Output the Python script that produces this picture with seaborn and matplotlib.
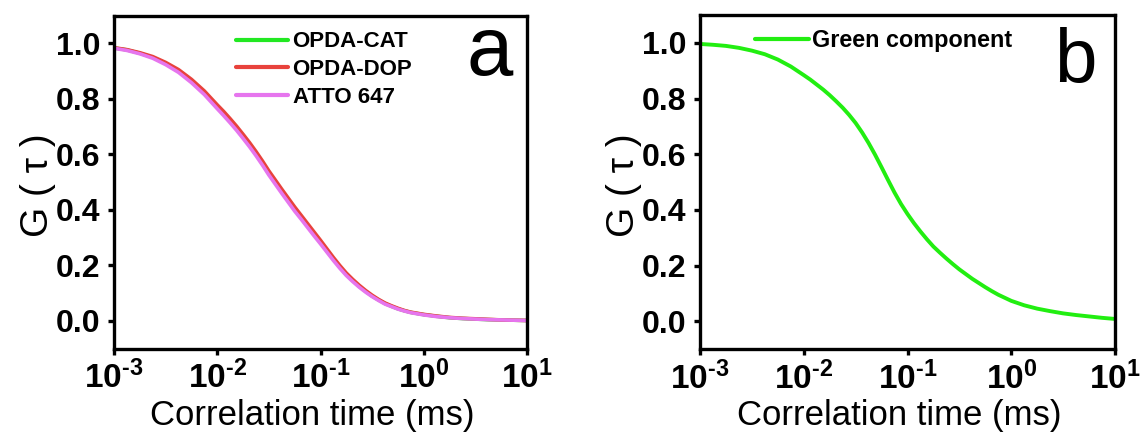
import numpy as np
import pandas as pd
import matplotlib
matplotlib.use("Agg")
import matplotlib.pyplot as plt
from matplotlib.ticker import FixedLocator, FuncFormatter, NullLocator
import seaborn as sns

# ---------------- data ----------------
tau_ms = [0.001, 0.001334, 0.001778, 0.002371, 0.003162, 0.004217, 0.005623, 0.007499,
          0.01, 0.01155, 0.01334, 0.0154, 0.01778, 0.02054, 0.02371, 0.02738,
          0.03162, 0.03652, 0.04217, 0.0487, 0.05623, 0.06494, 0.07499, 0.0866,
          0.1, 0.1155, 0.1334, 0.154, 0.1778, 0.2054, 0.2371, 0.2738,
          0.3162, 0.3652, 0.4217, 0.487, 0.5623, 0.6494, 0.7499, 0.866,
          1.0,
          1.334, 1.778, 2.371, 3.162, 4.217, 5.623, 7.499, 10.0]

g_opda_cat = [0.983, 0.976, 0.964, 0.949, 0.927, 0.900, 0.864, 0.821,
              0.771, 0.747, 0.720, 0.693, 0.664, 0.634, 0.602, 0.568,
              0.532, 0.499, 0.466, 0.434, 0.402, 0.372, 0.342, 0.312,
              0.282, 0.252, 0.222, 0.194, 0.167, 0.145, 0.124, 0.106,
              0.089, 0.075, 0.062, 0.052, 0.043, 0.036, 0.030, 0.026,
              0.022,
              0.016, 0.011, 0.008, 0.006, 0.004, 0.003, 0.002, 0.001]

g_opda_dop = [0.984, 0.977, 0.966, 0.952, 0.931, 0.905, 0.870, 0.828,
              0.778, 0.754, 0.728, 0.701, 0.672, 0.642, 0.610, 0.576,
              0.540, 0.507, 0.474, 0.442, 0.410, 0.380, 0.350, 0.320,
              0.290, 0.259, 0.228, 0.199, 0.172, 0.149, 0.128, 0.109,
              0.092, 0.077, 0.064, 0.054, 0.045, 0.037, 0.031, 0.027,
              0.023,
              0.017, 0.012, 0.009, 0.007, 0.005, 0.003, 0.002, 0.001]

g_atto647 = [0.982, 0.974, 0.962, 0.946, 0.923, 0.895, 0.858, 0.815,
             0.764, 0.739, 0.713, 0.686, 0.657, 0.627, 0.595, 0.561,
             0.525, 0.492, 0.459, 0.427, 0.395, 0.366, 0.336, 0.306,
             0.277, 0.247, 0.217, 0.189, 0.163, 0.141, 0.121, 0.103,
             0.087, 0.073, 0.060, 0.051, 0.042, 0.035, 0.029, 0.025,
             0.021,
             0.015, 0.011, 0.008, 0.006, 0.004, 0.003, 0.002, 0.001]

g_green_component = [0.996, 0.993, 0.989, 0.982, 0.972, 0.959, 0.940, 0.915,
                     0.884, 0.868, 0.850, 0.832, 0.812, 0.790, 0.767, 0.741,
                     0.712, 0.678, 0.640, 0.598, 0.553, 0.507, 0.462, 0.421,
                     0.385, 0.352, 0.322, 0.294, 0.268, 0.246, 0.225, 0.205,
                     0.186, 0.169, 0.152, 0.137, 0.122, 0.108, 0.095, 0.084,
                     0.073,
                     0.057, 0.045, 0.036, 0.028, 0.022, 0.017, 0.012, 0.008]

series_a = ["OPDA-CAT", "OPDA-DOP", "ATTO 647"]
series_b = ["Green component"]
x_ticks = [1e-3, 1e-2, 1e-1, 1e0, 1e1]
y_ticks = [0.0, 0.2, 0.4, 0.6, 0.8, 1.0]
x_label = "Correlation time (ms)"
y_label = "G ( \u03c4 )"
panel_letters = ["a", "b"]

colors_a = {"OPDA-CAT": "#22E822", "OPDA-DOP": "#E8423C", "ATTO 647": "#E675EE"}
colors_b = {"Green component": "#22EE11"}

# ---------------- style ----------------
sns.set_style("white")
plt.rcParams["font.family"] = ["Liberation Sans", "DejaVu Sans"]
plt.rcParams["mathtext.fontset"] = "custom"
plt.rcParams["mathtext.rm"] = "Liberation Sans"
plt.rcParams["mathtext.bf"] = "Liberation Sans:bold"
plt.rcParams["mathtext.it"] = "Liberation Sans:italic"
for key in ["text.color", "axes.labelcolor", "xtick.color", "ytick.color", "axes.edgecolor"]:
    plt.rcParams[key] = "black"

n = len(tau_ms)
df_a = pd.DataFrame({
    "tau": tau_ms * 3,
    "G": g_opda_cat + g_opda_dop + g_atto647,
    "sample": [series_a[0]] * n + [series_a[1]] * n + [series_a[2]] * n,
})
df_b = pd.DataFrame({"tau": tau_ms, "G": g_green_component,
                     "sample": [series_b[0]] * n})

W, H = 1141, 441
fig = plt.figure(figsize=(W / 100, H / 100), dpi=100)
ax1 = fig.add_axes([114 / W, 1 - 348.5 / H, 413 / W, 333 / H])
ax2 = fig.add_axes([700 / W, 1 - 349 / H, 415 / W, 334 / H])

sns.lineplot(data=df_a, x="tau", y="G", hue="sample", hue_order=series_a,
             palette=colors_a, linewidth=2.6, estimator=None, sort=False, ax=ax1)
sns.lineplot(data=df_b, x="tau", y="G", hue="sample", hue_order=series_b,
             palette=colors_b, linewidth=2.8, estimator=None, sort=False, ax=ax2)


def sci_fmt(v, pos):
    e = int(round(np.log10(v)))
    s = str(e).replace("-", "\u2010")
    return r"$\mathbf{10^{%s}}$" % s


for ax, letter in zip([ax1, ax2], panel_letters):
    ax.set_xscale("log")
    ax.set_xlim(1e-3, 10)
    ax.set_ylim(-0.1, 1.1)
    ax.xaxis.set_major_locator(FixedLocator(x_ticks))
    ax.xaxis.set_minor_locator(NullLocator())
    ax.xaxis.set_major_formatter(FuncFormatter(sci_fmt))
    ax.yaxis.set_major_locator(FixedLocator(y_ticks))
    ax.yaxis.set_major_formatter(FuncFormatter(lambda v, p: "%.1f" % v))
    for sp in ax.spines.values():
        sp.set_visible(True)
        sp.set_linewidth(2.4)
        sp.set_color("black")
    ax.tick_params(axis="both", which="major", direction="out", length=4,
                   width=2.4, color="black", bottom=True, left=True, top=False, right=False)
    ax.tick_params(axis="x", labelsize=24, pad=5)
    ax.tick_params(axis="y", labelsize=23, pad=6)
    for lab in ax.get_yticklabels():
        lab.set_fontweight("bold")
    ax.set_xlabel(x_label, fontsize=25, va="center")
    ax.set_ylabel(y_label, fontsize=28, va="center")
    ax.xaxis.set_label_coords(0.48, -0.20)
    ax.yaxis.set_label_coords(-0.184, 0.49)

ax1.text(0.91, 0.821, panel_letters[0], transform=ax1.transAxes, fontsize=60,
         ha="center", va="baseline")
ax2.text(0.904, 0.80, panel_letters[1], transform=ax2.transAxes, fontsize=55,
         ha="center", va="baseline")

leg1 = ax1.legend(loc="upper left", bbox_to_anchor=(0.295, 0.952), frameon=False,
                  prop={"weight": "bold", "size": 16}, handlelength=2.35,
                  handletextpad=0.2, labelspacing=0.3, borderpad=0, borderaxespad=0)
for h in leg1.get_lines():
    h.set_linewidth(3)
leg2 = ax2.legend(loc="upper left", bbox_to_anchor=(0.1325, 0.958), frameon=False,
                  prop={"weight": "bold", "size": 16.8}, handlelength=2.3,
                  handletextpad=0.13, borderpad=0, borderaxespad=0)
for h in leg2.get_lines():
    h.set_linewidth(3)

fig.savefig("out.png", dpi=100)
